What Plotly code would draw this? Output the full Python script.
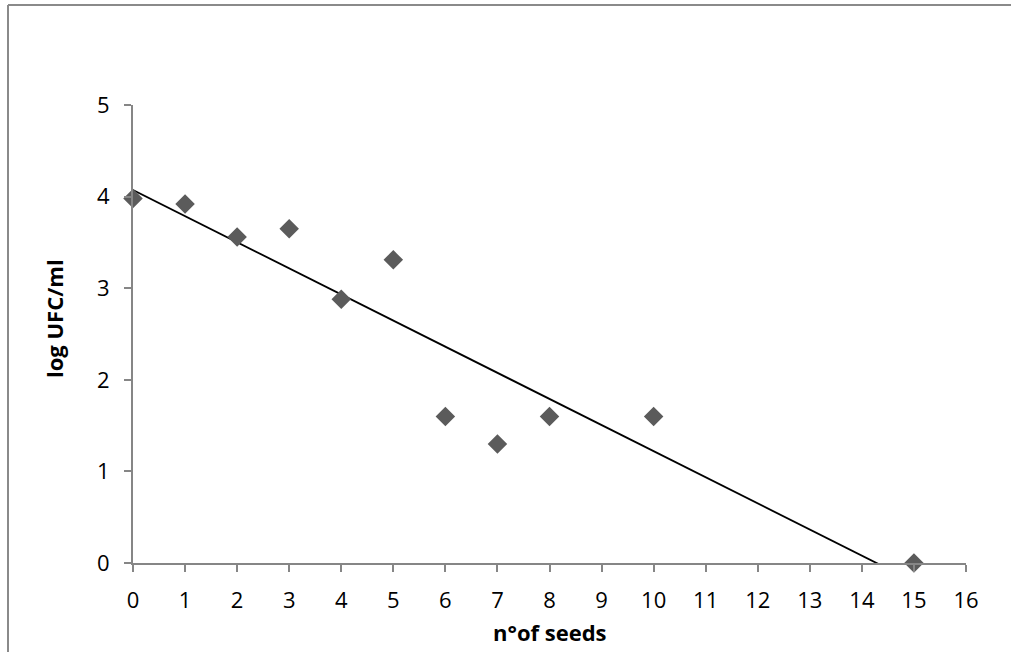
import numpy as np
import plotly.graph_objects as go

seeds = [0, 1, 2, 3, 4, 5, 6, 7, 8, 10, 15]
log_ufc = [3.98, 3.92, 3.56, 3.65, 2.88, 3.31, 1.60, 1.30, 1.60, 1.60, 0.0]
x_ticks = list(range(0, 17))
y_ticks = [0, 1, 2, 3, 4, 5]
x_title = "n°of seeds"
y_title = "log UFC/ml"

slope, intercept = np.polyfit(seeds, log_ufc, 1)
trend_x = [min(seeds), max(seeds)]
trend_y = [intercept + slope * v for v in trend_x]

FONT = "Open Sans"
AXIS_COLOR = "#868686"
L, R, T, B = 133, 45, 105, 89
W, H = 1011, 652
PW, PH = W - L - R, H - T - B


def px(xp):
    return (xp - L) / PW


def py(yp):
    return (H - B - yp) / PH


fig = go.Figure()
fig.add_trace(go.Scatter(
    x=trend_x, y=trend_y, mode="lines",
    line=dict(color="black", width=1.8), showlegend=False, hoverinfo="skip"))
fig.add_trace(go.Scatter(
    x=seeds, y=log_ufc, mode="markers",
    marker=dict(symbol="diamond", size=15, color="#5b5b5b", line=dict(width=0)),
    cliponaxis=False, showlegend=False))

fig.update_layout(
    width=W, height=H,
    margin=dict(l=L, r=R, t=T, b=B),
    paper_bgcolor="white", plot_bgcolor="white",
    font=dict(family=FONT, size=22, color="black"),
    xaxis=dict(
        range=[0, 16], tickvals=x_ticks, ticktext=[str(v) for v in x_ticks],
        showgrid=False, zeroline=False, showline=True, linecolor=AXIS_COLOR, linewidth=2,
        ticks="outside", ticklen=7, tickwidth=2, tickcolor=AXIS_COLOR,
        ticklabelstandoff=10,
    ),
    yaxis=dict(
        range=[0, 5], tickvals=y_ticks, ticktext=[str(v) for v in y_ticks],
        showgrid=False, zeroline=False, showline=True, linecolor=AXIS_COLOR, linewidth=2,
        ticks="outside", ticklen=7, tickwidth=2, tickcolor=AXIS_COLOR,
        ticklabelstandoff=10,
    ),
    annotations=[
        dict(text="<b>%s</b>" % x_title, xref="paper", yref="paper",
             x=px(550), y=py(632), xanchor="center", yanchor="middle",
             showarrow=False, font=dict(family=FONT, size=22, color="black")),
        dict(text="<b>%s</b>" % y_title, xref="paper", yref="paper",
             x=px(54), y=py(319), xanchor="center", yanchor="middle",
             textangle=-90, showarrow=False,
             font=dict(family=FONT, size=22, color="black")),
    ],
)

# outer chart-area border (only top and left edges visible in the reference)
fig.add_shape(type="line", xref="paper", yref="paper",
              x0=px(8), x1=px(1011), y0=py(5), y1=py(5),
              line=dict(color="#8a8a8a", width=2))
fig.add_shape(type="line", xref="paper", yref="paper",
              x0=px(8), x1=px(8), y0=py(5), y1=py(660),
              line=dict(color="#8a8a8a", width=2))

fig.write_html("out.html", config={"displayModeBar": False},
               post_script="document.body.style.margin='0px';")
